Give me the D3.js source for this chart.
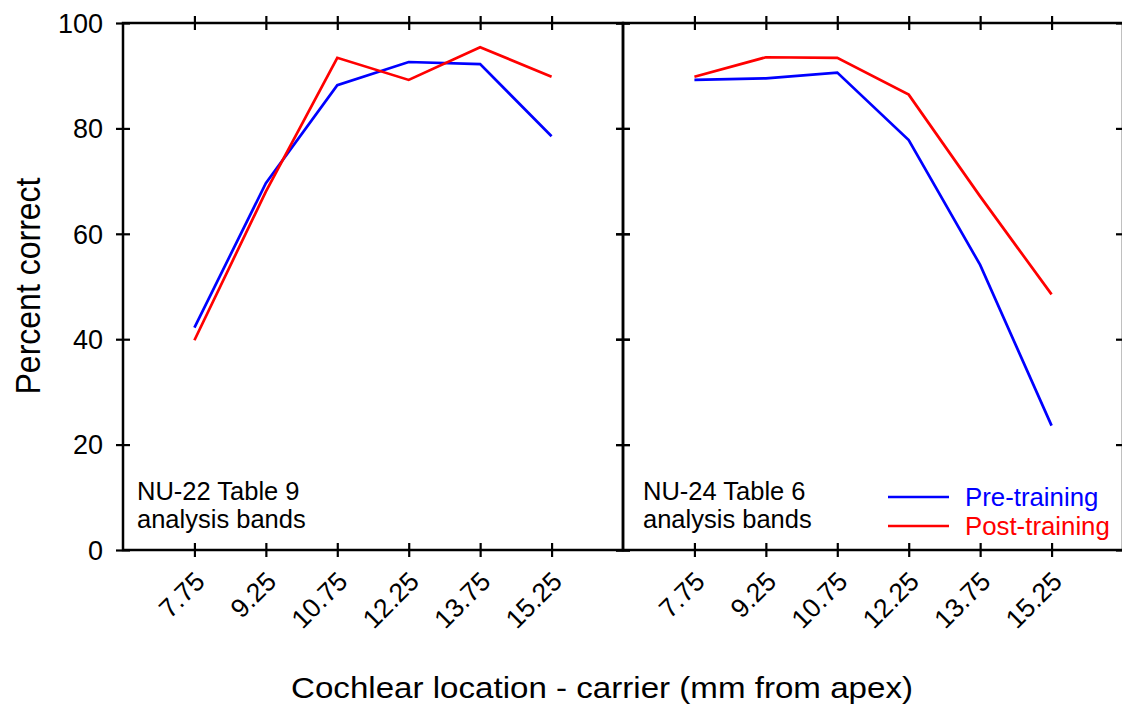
<!DOCTYPE html>
<html>
<head>
<meta charset="utf-8">
<script src="https://cdn.jsdelivr.net/npm/d3@7"></script>
<style>
  body { margin: 0; background: #fff; }
  svg { display: block; font-family: "Liberation Sans", Arial, sans-serif; }
</style>
</head>
<body>
<div id="chart"></div>
<script>
// carrier locations (mm from apex)
const locations = [7.75, 9.25, 10.75, 12.25, 13.75, 15.25];
const locationLabels = ["7.75", "9.25", "10.75", "12.25", "13.75", "15.25"];
const yTicks = [0, 20, 40, 60, 80, 100];

// percent correct, NU-22 Table 9
const nu22Pre = [42.2, 69.6, 88.2, 92.6, 92.2, 78.5];
const nu22Post = [39.8, 68.0, 93.4, 89.2, 95.4, 89.8];
// percent correct, NU-24 Table 6
const nu24Pre = [89.2, 89.5, 90.6, 77.8, 54.1, 23.6];
const nu24Post = [89.8, 93.5, 93.4, 86.4, 67.1, 48.5];

const panelNames = [["NU-22 Table 9", "analysis bands"], ["NU-24 Table 6", "analysis bands"]];
const seriesNames = ["Pre-training", "Post-training"];
const colors = ["#0000ff", "#ff0000"];

const panels = [
  { name: panelNames[0], series: [nu22Pre, nu22Post] },
  { name: panelNames[1], series: [nu24Pre, nu24Post] }
];

const W = 1122, H = 707;
const margin = { top: 23, left: 123 };
const panelW = 500;
const height = 527;

const svg = d3.select("#chart").append("svg")
  .attr("width", W)
  .attr("height", H);

const x = d3.scaleLinear().domain([6.25, 16.75]).range([0, panelW]);
const y = d3.scaleLinear().domain([0, 100]).range([height, 0]);

const line = d3.line()
  .x((d, i) => x(locations[i]))
  .y((d) => y(d));

panels.forEach((p, pi) => {
  const g = svg.append("g")
    .attr("transform", `translate(${margin.left + pi * panelW}, ${margin.top})`);

  // tick marks crossing each side of the frame
  const axes = [
    [d3.axisBottom(x), `translate(0, ${height})`, locations],
    [d3.axisTop(x), "translate(0, 0)", locations],
    [d3.axisLeft(y), "translate(0, 0)", yTicks],
    [d3.axisRight(y), `translate(${panelW}, 0)`, yTicks]
  ];
  axes.forEach(([ax, tr, tv]) => {
    [7, -7].forEach((s) => {
      g.append("g")
        .attr("transform", tr)
        .call(ax.tickValues(tv).tickSize(s).tickFormat(""))
        .call((a) => a.select(".domain").remove())
        .selectAll("line")
        .attr("stroke", "#000")
        .attr("stroke-width", 2.2);
    });
  });

  // frame
  g.append("rect")
    .attr("width", panelW)
    .attr("height", height)
    .attr("fill", "none")
    .attr("stroke", "#000")
    .attr("stroke-width", 2.5);

  // y labels only on left panel
  if (pi === 0) {
    g.selectAll(".ylab")
      .data(yTicks)
      .join("text")
      .attr("x", -20)
      .attr("y", (d) => y(d))
      .attr("dy", "0.36em")
      .attr("text-anchor", "end")
      .attr("font-size", 27)
      .text((d) => d);
  }

  // rotated x labels
  g.selectAll(".xlab")
    .data(locations)
    .join("text")
    .attr("text-anchor", "end")
    .attr("font-size", 26.5)
    .attr("transform", (d) => `translate(${x(d) + 12}, ${height + 33}) rotate(-45)`)
    .text((d, i) => locationLabels[i]);

  // lines
  p.series.forEach((s, si) => {
    g.append("path")
      .datum(s)
      .attr("d", line)
      .attr("fill", "none")
      .attr("stroke", colors[si])
      .attr("stroke-width", 2.7);
  });

  // panel annotation, two lines
  p.name.forEach((t, i) => {
    g.append("text")
      .attr("font-size", 25.5)
      .attr("x", 14 + pi * 6)
      .attr("y", 477 + i * 27.5)
      .text(t);
  });
});

// legend inside right panel
const leg = svg.append("g").attr("transform", "translate(888, 497)");
seriesNames.forEach((n, i) => {
  leg.append("line")
    .attr("x1", 0).attr("x2", 61)
    .attr("y1", i * 29).attr("y2", i * 29)
    .attr("stroke", colors[i])
    .attr("stroke-width", 2.7);
  leg.append("text")
    .attr("x", 77)
    .attr("y", i * 29)
    .attr("dy", "0.33em")
    .attr("font-size", 25.8)
    .attr("fill", colors[i])
    .text(n);
});

// axis titles
svg.append("text")
  .attr("transform", "translate(40, 286) rotate(-90)")
  .attr("text-anchor", "middle")
  .attr("font-size", 35)
  .attr("textLength", 217)
  .attr("lengthAdjust", "spacingAndGlyphs")
  .text("Percent correct");

svg.append("text")
  .attr("x", 602)
  .attr("y", 698)
  .attr("text-anchor", "middle")
  .attr("font-size", 30)
  .attr("textLength", 622)
  .attr("lengthAdjust", "spacingAndGlyphs")
  .text("Cochlear location - carrier (mm from apex)");
</script>
</body>
</html>
